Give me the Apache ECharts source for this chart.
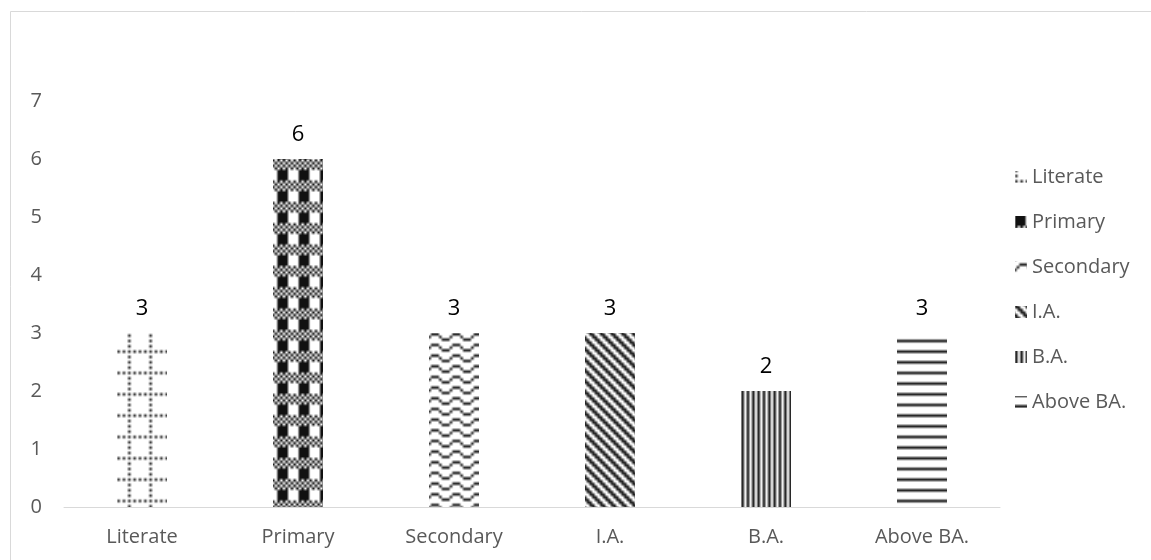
<!DOCTYPE html>
<html>
<head>
<meta charset="utf-8">
<script src="https://cdn.jsdelivr.net/npm/echarts@6/dist/echarts.min.js"></script>
<style>
  html, body { margin: 0; padding: 0; background: #fff; }
  #chart { width: 1151px; height: 560px; }
</style>
</head>
<body>
<div id="chart"></div>
<script>
// Education level counts
const categories = ['Literate', 'Primary', 'Secondary', 'I.A.', 'B.A.', 'Above BA.'];
const values = [3, 6, 3, 3, 2, 3];
const yTicks = [0, 1, 2, 3, 4, 5, 6, 7];

const FONT = '"Open Sans", "Noto Sans", sans-serif';

// 8x8 hatch bitmaps ('#' = ink). Each is repeated 3x3 into a 24px source
// (plus a 1px wrapped border) and scaled to a 64px tile, so one bitmap
// period is 64/3 px on screen.
const hatch = {
  dottedGrid: ['#.#.#.#.', '........', '#.......', '........', '#.......', '........', '#.......', '........'],
  checkBlocks: ['#.#.#.#.', '.#.#.#.#', '#.#.#.#.', '.#.#.#.#', '####....', '####....', '####....', '####....'],
  wave: ['###.....', '...#...#', '....###.', '........', '###.....', '...#...#', '....###.', '........'],
  downDiagonal: ['##..##..', '.##..##.', '..##..##', '#..##..#', '##..##..', '.##..##.', '..##..##', '#..##..#'],
  narrowVertical: ['#.#.#.#.', '#.#.#.#.', '#.#.#.#.', '#.#.#.#.', '#.#.#.#.', '#.#.#.#.', '#.#.#.#.', '#.#.#.#.'],
  lightHorizontal: ['########', '........', '........', '........', '########', '........', '........', '........']
};

function makeFill(rows, ox, oy, ink) {
  const src = document.createElement('canvas');
  src.width = src.height = 26;
  const s = src.getContext('2d');
  s.fillStyle = '#ffffff';
  s.fillRect(0, 0, 26, 26);
  s.fillStyle = ink;
  for (let y = 0; y < 26; y++) {
    for (let x = 0; x < 26; x++) {
      const r = (y - 1 + 8) % 8;
      const c = (x - 1 + 8) % 8;
      if (rows[r][c] === '#') s.fillRect(x, y, 1, 1);
    }
  }
  const tile = document.createElement('canvas');
  tile.width = tile.height = 64;
  const g = tile.getContext('2d');
  g.imageSmoothingEnabled = true;
  const dx = ((ox % 64) + 64) % 64;
  const dy = ((oy % 64) + 64) % 64;
  for (const px of [dx - 64, dx]) {
    for (const py of [dy - 64, dy]) {
      g.drawImage(src, 1, 1, 24, 24, px, py, 64, 64);
    }
  }
  return { image: tile, repeat: 'repeat' };
}

const fills = [
  makeFill(hatch.dottedGrid, 0, 9, '#2b2b2b'),
  makeFill(hatch.checkBlocks, 0, 9.7, '#111111'),
  makeFill(hatch.wave, 4.3, 13, '#222222'),
  makeFill(hatch.downDiagonal, 0, 0, '#222222'),
  makeFill(hatch.narrowVertical, 0, 0, '#1a1a1a'),
  makeFill(hatch.lightHorizontal, 0, 9, '#1a1a1a')
];

const series = categories.map((name, i) => ({
  name: name,
  type: 'bar',
  stack: 'level',
  barWidth: 50,
  data: categories.map((_, j) => (j === i ? values[i] : '-')),
  itemStyle: { color: fills[i] },
  label: {
    show: true,
    position: 'top',
    distance: 13,
    color: '#000000',
    fontSize: 22,
    fontFamily: FONT
  }
}));

const chart = echarts.init(document.getElementById('chart'), null, { renderer: 'canvas' });
chart.setOption({
  animation: false,
  backgroundColor: '#ffffff',
  graphic: [{
    type: 'rect',
    shape: { x: 10.5, y: 11.5, width: 1400, height: 800 },
    style: { fill: 'none', stroke: '#d9d9d9', lineWidth: 1 },
    silent: true
  }],
  grid: {
    left: 64,
    right: 151,
    top: 101,
    bottom: 53,
    containLabel: false,
    outerBoundsMode: 'none'
  },
  legend: {
    orient: 'vertical',
    left: 1015,
    top: 167,
    itemWidth: 12,
    itemHeight: 12,
    itemGap: 25,
    icon: 'rect',
    padding: 0,
    data: categories,
    textStyle: { color: '#595959', fontSize: 20, fontFamily: FONT, lineHeight: 20 }
  },
  xAxis: {
    type: 'category',
    data: categories,
    axisLine: { show: true, lineStyle: { color: '#d9d9d9', width: 1 } },
    axisTick: { show: false },
    axisLabel: { color: '#595959', fontSize: 20, fontFamily: FONT, margin: 20 },
    splitLine: { show: false }
  },
  yAxis: {
    type: 'value',
    min: yTicks[0],
    max: yTicks[yTicks.length - 1],
    interval: 1,
    axisLine: { show: false },
    axisTick: { show: false },
    splitLine: { show: false },
    axisLabel: { color: '#595959', fontSize: 20, fontFamily: FONT, margin: 22 }
  },
  series: series
});
</script>
</body>
</html>
